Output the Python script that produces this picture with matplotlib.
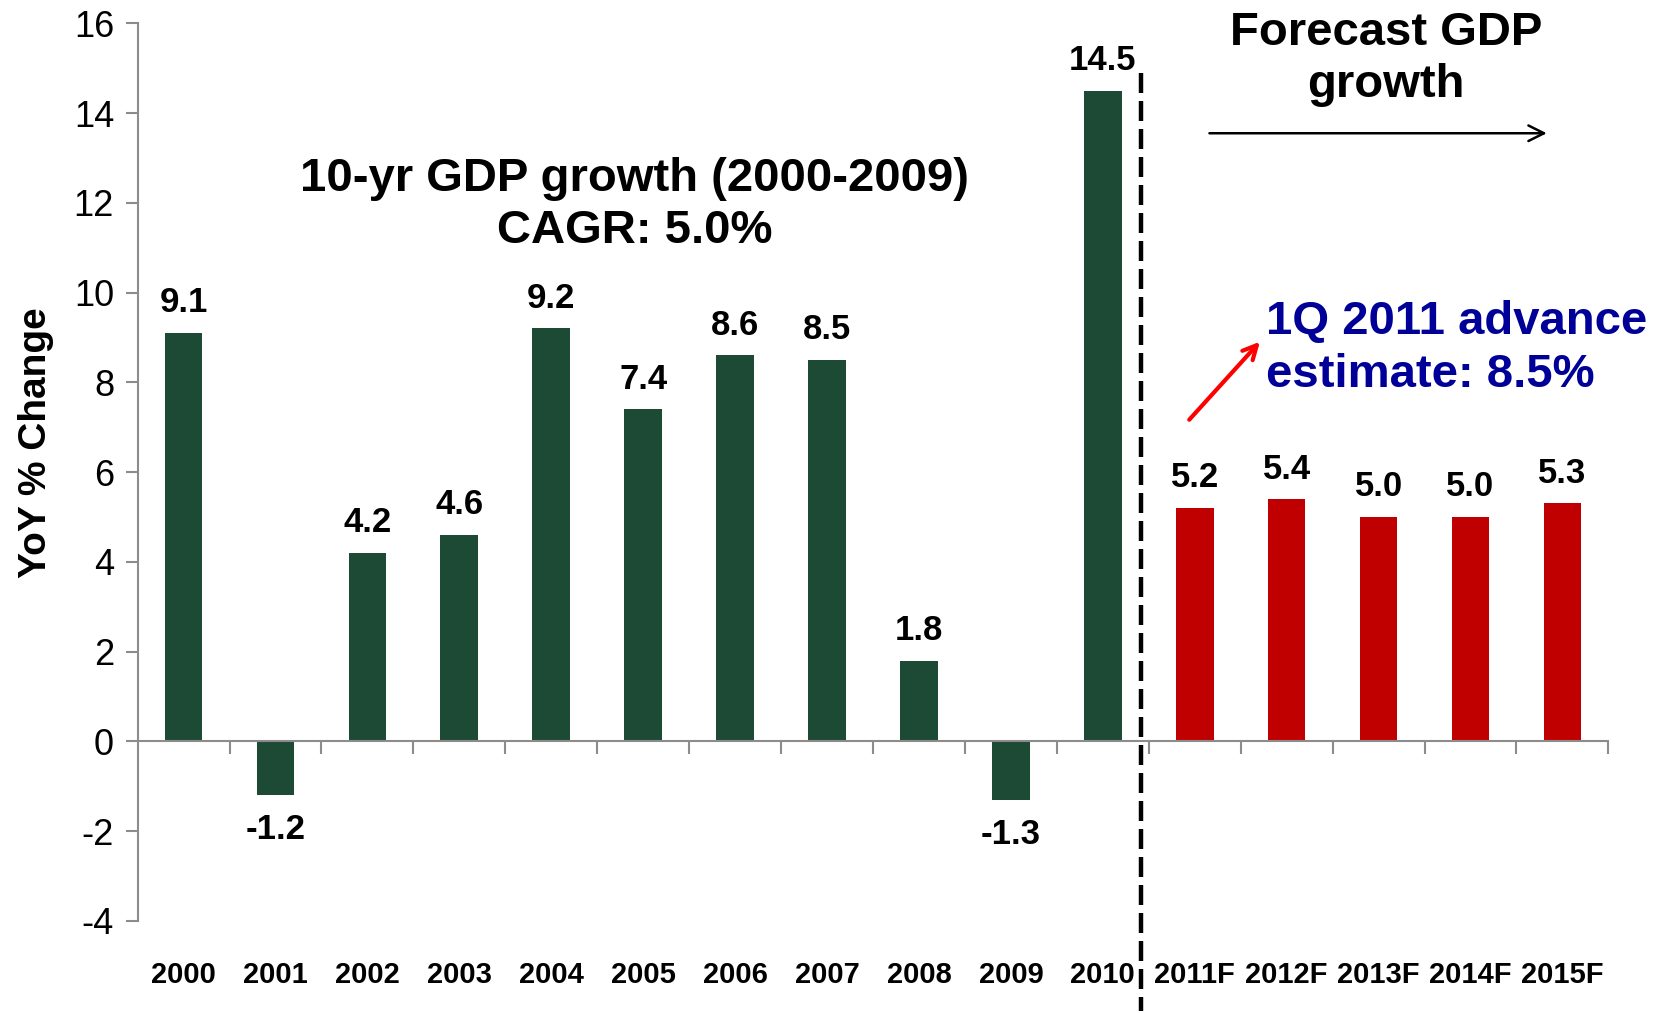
import numpy as np
import matplotlib
matplotlib.use("Agg")
import matplotlib.pyplot as plt

years = ["2000", "2001", "2002", "2003", "2004", "2005", "2006", "2007",
         "2008", "2009", "2010", "2011F", "2012F", "2013F", "2014F", "2015F"]
growth = [9.1, -1.2, 4.2, 4.6, 9.2, 7.4, 8.6, 8.5, 1.8, -1.3, 14.5,
          5.2, 5.4, 5.0, 5.0, 5.3]
n_actual = 11

green = "#1C4A35"
red = "#C00000"
navy = "#000099"
grey = "#8C8C8C"

plt.rcParams["font.family"] = ["Liberation Sans", "DejaVu Sans"]
plt.rcParams["axes.unicode_minus"] = False
narrow = ["Liberation Sans Narrow", "Liberation Sans", "DejaVu Sans"]

fig = plt.figure(figsize=(16.6, 10.13), dpi=100)
ax = fig.add_axes([0.0829, 0.091, 0.886, 0.886])

x = np.arange(len(years))
colors = [green if i < n_actual else red for i in range(len(years))]
ax.bar(x, growth, width=0.41, color=colors, zorder=2)

for xi, v in zip(x, growth):
    if v >= 0:
        ax.text(xi, v + 0.3, f"{v:.1f}", ha="center", va="bottom",
                fontsize=25, fontweight="bold", family=narrow)
    else:
        ax.text(xi, v - 0.4, f"{v:.1f}", ha="center", va="top",
                fontsize=25, fontweight="bold", family=narrow)

ax.set_xlim(-0.5, len(years) - 0.5)
ax.set_ylim(-4, 16)
ax.set_yticks(np.arange(-4, 17, 2))
ax.tick_params(axis="y", labelsize=26, length=9, width=1.5, color=grey, pad=8)

# x axis sits on zero, ticks between categories, labels at the bottom
for s in ["top", "right"]:
    ax.spines[s].set_visible(False)
ax.spines["left"].set_color(grey)
ax.spines["left"].set_linewidth(1.5)
ax.spines["bottom"].set_position(("data", 0))
ax.spines["bottom"].set_color(grey)
ax.spines["bottom"].set_linewidth(1.5)
ax.set_xticks(np.arange(0.5, len(years), 1.0))
ax.set_xticklabels([])
ax.tick_params(axis="x", which="major", length=9, width=1.5, color=grey)
ax.set_xticks(x, minor=True)
ax.set_xticklabels(years, minor=True, fontsize=21, fontweight="bold", family=narrow)
ax.tick_params(axis="x", which="minor", length=0, pad=158)

ax.set_ylabel("YoY % Change", fontsize=28, fontweight="bold")
ax.yaxis.set_label_coords(-0.057, 0.533)

# divider between actual and forecast
ax.plot([10.42, 10.42], [14.9, -6.0], color="black", lw=3.2,
        dashes=(4.5, 1.8), clip_on=False, zorder=3)

ax.text(4.91, 11.95, "10-yr GDP growth (2000-2009)\nCAGR: 5.0%", ha="center",
        va="center", fontsize=34, fontweight="bold", linespacing=1.25)
ax.text(13.08, 15.2, "Forecast GDP\ngrowth", ha="center", va="center",
        fontsize=34, fontweight="bold", linespacing=1.25, clip_on=False)
ax.annotate("", xy=(14.86, 13.55), xytext=(11.13, 13.55),
            arrowprops=dict(arrowstyle="->", color="black", lw=1.8,
                            mutation_scale=28))
ax.text(11.78, 8.75, "1Q 2011 advance\nestimate: 8.5%", ha="left", va="center",
        fontsize=34, fontweight="bold", color=navy, linespacing=1.25,
        clip_on=False)
ax.annotate("", xy=(11.73, 8.95), xytext=(10.92, 7.12),
            arrowprops=dict(arrowstyle="->", color="red", lw=3,
                            mutation_scale=25))

fig.savefig("out.png", dpi=100)
